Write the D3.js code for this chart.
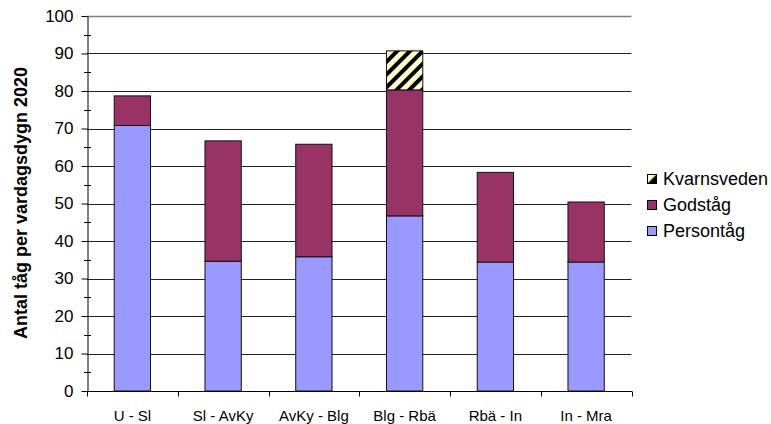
<!DOCTYPE html>
<html>
<head>
<meta charset="utf-8">
<script src="https://cdn.jsdelivr.net/npm/d3@7"></script>
<style>
  html, body { margin: 0; padding: 0; background: #fff; }
  svg { display: block; font-family: Arial, "Liberation Sans", sans-serif; }
</style>
</head>
<body>
<svg id="chart" width="771" height="424"></svg>
<script>
// Train counts per weekday 2020, by line section
const sections = ["U - Sl", "Sl - AvKy", "AvKy - Blg", "Blg - Rbä", "Rbä - In", "In - Mra"];
const persontag = [70.8, 34.6, 35.8, 46.7, 34.4, 34.4];
const godstag = [7.9, 32.1, 30.0, 33.6, 23.9, 16.0];
const kvarnsveden = [0, 0, 0, 10.4, 0, 0];
const yTicks = [0, 10, 20, 30, 40, 50, 60, 70, 80, 90, 100];

const seriesNames = ["Persontåg", "Godståg", "Kvarnsveden"];
const seriesValues = [persontag, godstag, kvarnsveden];

const rows = sections.map((s, i) => {
  const r = { section: s };
  seriesNames.forEach((n, k) => { r[n] = seriesValues[k][i]; });
  return r;
});

const svg = d3.select("#chart");
const plotLeft = 87, plotRight = 631.5, plotTop = 16, plotBottom = 391;

const x = d3.scaleBand().domain(sections).range([plotLeft, plotRight]).paddingInner(0.6).paddingOuter(0.3);
const xb = d3.scaleBand().domain(sections).range([plotLeft, plotRight]);
const y = d3.scaleLinear().domain([0, 100]).range([plotBottom, plotTop]);

// Hatch pattern for Kvarnsveden
const defs = svg.append("defs");
const pat = defs.append("pattern")
  .attr("id", "hatch").attr("patternUnits", "userSpaceOnUse")
  .attr("width", 9).attr("height", 9)
  .attr("patternTransform", "rotate(45)");
pat.append("rect").attr("width", 9).attr("height", 9).attr("fill", "#FFFFCC");
pat.append("rect").attr("x", 0).attr("width", 4).attr("height", 9).attr("fill", "#000");

// Small legend swatch: diagonal split yellow/black
const ps = defs.append("pattern").attr("id", "hatchSmall").attr("patternUnits", "userSpaceOnUse")
  .attr("width", 9).attr("height", 9).attr("x", 0.5).attr("y", -4.5);
ps.append("rect").attr("width", 9).attr("height", 9).attr("fill", "#FFFFCC");
ps.append("path").attr("d", "M9,0 L9,9 L0,9 Z").attr("fill", "#000");

const colors = { "Persontåg": "#9999FF", "Godståg": "#993366", "Kvarnsveden": "url(#hatch)" };

// Gridlines
svg.append("g").selectAll("line").data(yTicks.filter(d => d > 0)).join("line")
  .attr("x1", plotLeft).attr("x2", plotRight)
  .attr("y1", d => Math.round(y(d)) + 0.5).attr("y2", d => Math.round(y(d)) + 0.5)
  .attr("stroke", d => d === 100 ? "#7f7f7f" : "#222")
  .attr("stroke-width", d => d === 100 ? 1.6 : 1);

// Stacked bars
const stack = d3.stack().keys(seriesNames)(rows);
svg.append("g").selectAll("g").data(stack).join("g")
  .attr("fill", d => colors[d.key])
  .selectAll("rect").data(d => d.filter(p => p[1] - p[0] > 0)).join("rect")
  .attr("x", d => x(d.data.section))
  .attr("width", x.bandwidth())
  .attr("y", d => y(d[1]))
  .attr("height", d => y(d[0]) - y(d[1]))
  .attr("stroke", "#111").attr("stroke-width", 1);

// Y axis with major and minor ticks
const yAxis = svg.append("g").attr("transform", `translate(${plotLeft + 0.5},0)`)
  .call(d3.axisLeft(y).tickValues(yTicks).tickSize(6).tickPadding(8).tickSizeOuter(0));
yAxis.select(".domain").attr("stroke", "#000");
yAxis.selectAll(".tick line").attr("stroke", "#000");
yAxis.selectAll(".tick text").attr("font-size", 17).attr("fill", "#000")
  .attr("font-family", "Arial, 'Liberation Sans', sans-serif");
const minor = d3.range(5, 100, 10);
svg.append("g").selectAll("line").data(minor).join("line")
  .attr("x1", plotLeft - 3).attr("x2", plotLeft + 4)
  .attr("y1", d => Math.round(y(d)) + 0.5).attr("y2", d => Math.round(y(d)) + 0.5)
  .attr("stroke", "#000");
svg.append("line").attr("x1", plotLeft).attr("x2", plotLeft + 5)
  .attr("y1", plotBottom + 0.5).attr("y2", plotBottom + 0.5).attr("stroke", "#000");

// X axis: ticks at band boundaries
const xAxis = svg.append("g").attr("transform", `translate(0,${plotBottom + 0.5})`);
xAxis.append("line").attr("x1", plotLeft).attr("x2", plotRight + 0.5).attr("stroke", "#000");
xAxis.selectAll(".bt").data(sections).join("line").attr("class", "bt")
  .attr("x1", d => Math.round(xb(d) + xb.bandwidth()) + 0.5)
  .attr("x2", d => Math.round(xb(d) + xb.bandwidth()) + 0.5)
  .attr("y1", 0).attr("y2", 5).attr("stroke", "#000");
xAxis.append("line").attr("x1", plotLeft + 0.5).attr("x2", plotLeft + 0.5).attr("y1", 0).attr("y2", 5).attr("stroke", "#000");
xAxis.selectAll("text").data(sections).join("text")
  .attr("x", d => xb(d) + xb.bandwidth() / 2)
  .attr("y", 29)
  .attr("text-anchor", "middle")
  .attr("font-size", 15).attr("fill", "#000")
  .text(d => d);

// Y axis title
svg.append("text")
  .attr("transform", "translate(27,203) rotate(-90)")
  .attr("text-anchor", "middle")
  .attr("font-size", 18).attr("font-weight", "bold").attr("fill", "#000")
  .text("Antal tåg per vardagsdygn 2020");

// Legend (reverse stack order)
const legendItems = seriesNames.slice().reverse();
const lg = svg.append("g").selectAll("g").data(legendItems).join("g")
  .attr("transform", (d, i) => `translate(647,${179 + i * 26})`);
lg.append("rect").attr("x", 0.5).attr("y", -4.5).attr("width", 9).attr("height", 9)
  .attr("fill", d => d === "Kvarnsveden" ? "url(#hatchSmall)" : colors[d])
  .attr("stroke", "#000");
lg.append("text").attr("x", 16).attr("y", 0).attr("dy", "0.35em")
  .attr("font-size", 18).attr("fill", "#000").text(d => d);
</script>
</body>
</html>
